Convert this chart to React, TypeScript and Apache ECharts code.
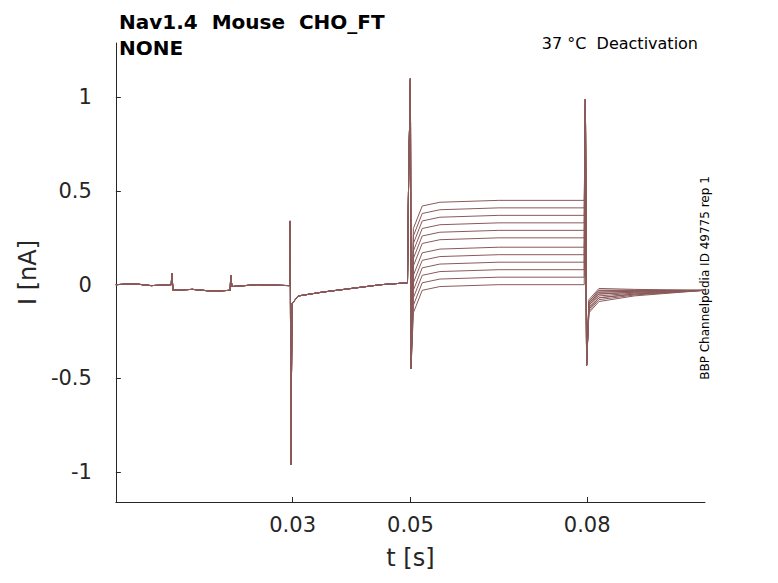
import React, { useEffect, useRef } from 'react';
import * as echarts from 'echarts';

// steady current during the 0.05–0.08 s step, one per trace (nA)
const stepLevels = [0.45, 0.41, 0.37, 0.33, 0.29, 0.25, 0.2, 0.16, 0.12, 0.08, 0.04, 0.0];
// tail current just after 0.08 s, one per trace (nA)
const tailLevels = [-0.02, -0.03, -0.03, -0.04, -0.04, -0.05, -0.05, -0.06, -0.07, -0.07, -0.08, -0.09];

// shared protocol shape before the step: [t, I]
const preStep: [number, number][] = [
  [0, 0.0], [0.003, 0.005], [0.006, -0.005], [0.0094, 0.0], [0.0095, 0.06], [0.0097, -0.03],
  [0.013, -0.025], [0.0165, -0.035], [0.0194, -0.03], [0.0195, 0.05], [0.0197, -0.01],
  [0.024, 0.0], [0.0295, -0.005], [0.0296, 0.34], [0.0297, -0.96], [0.0299, -0.1],
  [0.031, -0.06], [0.035, -0.04], [0.04, -0.02], [0.045, 0.0], [0.0495, 0.01],
  [0.0497, 0.58], [0.05, 1.1], [0.0501, -0.45],
];

const xLabels = [0.03, 0.05, 0.08];
const yLabels = [-1, -0.5, 0, 0.5, 1];
const color = '#8a5a5a';

const buildTrace = (level: number, tail: number): [number, number][] => [
  ...preStep,
  [0.0505, level - 0.15],
  [0.052, level - 0.03],
  [0.055, level - 0.01],
  [0.065, level],
  [0.0795, level],
  [0.0797, 0.99],
  [0.0799, -0.43],
  [0.0803, tail - 0.06],
  [0.082, tail],
  [0.088, (tail - 0.03) / 2],
  [0.1, -0.03],
];

const App: React.FC = () => {
  const ref = useRef<HTMLDivElement>(null);
  useEffect(() => {
    if (!ref.current) return;
    const chart = echarts.init(ref.current, null, { renderer: 'svg' });
    const axisText = { color: '#262626', fontSize: 21, fontFamily: 'DejaVu Sans' };
    chart.setOption({
      animation: false,
      grid: { left: 93, top: 35, right: 65, bottom: 63 },
      title: [
        {
          text: 'Nav1.4  Mouse  CHO_FT\nNONE', left: 106, top: -4,
          textStyle: { fontSize: 20, fontWeight: 'bold', fontFamily: 'DejaVu Sans', color: '#000', lineHeight: 26 },
        },
        {
          text: '37 °C  Deactivation', right: 67, top: 22,
          textStyle: { fontSize: 16, fontWeight: 'normal', fontFamily: 'DejaVu Sans', color: '#000' },
        },
      ],
      graphic: [
        {
          type: 'text', x: 703, y: 270, rotation: Math.PI / 2, originX: 0, originY: 0,
          style: { text: 'BBP Channelpedia ID 49775 rep 1', font: '12px DejaVu Sans', fill: '#000', align: 'center', verticalAlign: 'bottom' },
        },
      ],
      xAxis: {
        type: 'value', min: 0, max: 0.1,
        name: 't [s]', nameLocation: 'middle', nameGap: 44,
        nameTextStyle: { fontSize: 24, color: '#262626', fontFamily: 'DejaVu Sans' },
        axisLine: { onZero: false, lineStyle: { color: '#262626' } },
        axisTick: { show: true, customValues: xLabels, inside: true, lineStyle: { color: '#262626' } },
        axisLabel: { ...axisText, customValues: xLabels, margin: 12 },
        splitLine: { show: false },
      },
      yAxis: {
        type: 'value', min: -1.16, max: 1.29,
        name: 'I [nA]', nameLocation: 'middle', nameGap: 62,
        nameTextStyle: { fontSize: 24, color: '#262626', fontFamily: 'DejaVu Sans' },
        axisLine: { show: true, onZero: false, lineStyle: { color: '#262626' } },
        axisTick: { show: true, customValues: yLabels, inside: true, lineStyle: { color: '#262626' } },
        axisLabel: { ...axisText, customValues: yLabels, margin: 24 },
        splitLine: { show: false },
      },
      series: stepLevels.map((lv, i) => ({
        type: 'line',
        data: buildTrace(lv, tailLevels[i]),
        showSymbol: false,
        lineStyle: { color, width: 1 },
      })),
    });
    return () => chart.dispose();
  }, []);
  return <div ref={ref} style={{ width: 762, height: 567 }} />;
};

export default App;
